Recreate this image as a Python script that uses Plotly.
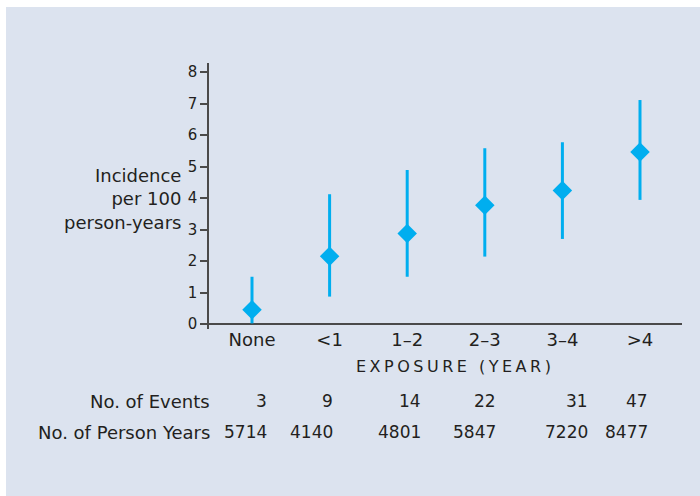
import plotly.graph_objects as go

# ---- data ----
categories = ["None", "<1", "1–2", "2–3", "3–4", ">4"]
incidence = [0.45, 2.15, 2.87, 3.77, 4.24, 5.46]
ci_upper = [1.50, 4.12, 4.89, 5.58, 5.77, 7.11]
ci_lower = [0.02, 0.87, 1.50, 2.14, 2.70, 3.94]
events = [3, 9, 14, 22, 31, 47]
person_years = [5714, 4140, 4801, 5847, 7220, 8477]
y_ticks = [0, 1, 2, 3, 4, 5, 6, 7, 8]

# ---- style ----
BG = "#DCE3EF"
CYAN = "#00AEEF"
INK = "#231F20"
AXIS = "#4A4A4A"
FONT = "DejaVu Sans"

# page offset of the figure (white strip left / top)
OX, OY = 6, 7
W, H = 700 - OX, 496 - OY
# plot area in screen pixels
PL, PR, PT, PB = 209, 682, 63, 329
ML, MR, MT, MB = PL - OX, W - (PR - OX), PT - OY, H - (PB - OY)
PW = W - ML - MR
PH = H - MT - MB

def px_to_paper_x(sx):
    return (sx - PL) / PW

def px_to_paper_y(sy):
    return (PB - sy) / PH

xs = list(range(len(categories)))
err_plus = [u - v for u, v in zip(ci_upper, incidence)]
err_minus = [v - l for v, l in zip(incidence, ci_lower)]

fig = go.Figure()
fig.add_trace(go.Scatter(
    x=xs, y=incidence, mode="markers",
    marker=dict(symbol="diamond", size=15, color=CYAN, line=dict(width=0)),
    error_y=dict(type="data", symmetric=False, array=err_plus, arrayminus=err_minus,
                 color=CYAN, thickness=3, width=0),
    showlegend=False, hoverinfo="skip",
))

annotations = []
# y-axis title
annotations.append(dict(
    xref="paper", yref="paper", x=px_to_paper_x(183), y=px_to_paper_y(199),
    xanchor="right", yanchor="middle", align="right", showarrow=False,
    text="Incidence<br>per 100<br>person-years",
    font=dict(family=FONT, size=18, color=INK),
))
# x-axis title (letter-spaced caps)
annotations.append(dict(
    xref="paper", yref="paper", x=px_to_paper_x(455), y=px_to_paper_y(366),
    xanchor="center", yanchor="middle", showarrow=False,
    text='<span style="letter-spacing:3.5px">EXPOSURE (YEAR)</span>',
    font=dict(family=FONT, size=16, color=INK),
))
# table row labels
row_y = [px_to_paper_y(401), px_to_paper_y(432)]
for label, yy in zip(["No. of Events", "No. of Person Years"], row_y):
    annotations.append(dict(
        xref="paper", yref="paper", x=px_to_paper_x(212), y=yy,
        xanchor="right", yanchor="middle", showarrow=False, text=label,
        font=dict(family=FONT, size=18, color=INK),
    ))
# table numbers (right aligned per column)
col_shift = [17, 5, 16, 13, 28, 10]
for i, (e, p) in enumerate(zip(events, person_years)):
    for val, yy in zip([e, p], row_y):
        annotations.append(dict(
            xref="x", yref="paper", x=xs[i], y=yy, xshift=col_shift[i],
            xanchor="right", yanchor="middle", showarrow=False, text=str(val),
            font=dict(family=FONT, size=17, color=INK),
        ))

x_lo = -43 / 77.6
x_hi = (682 - 252) / 77.6
y_top = 8 + 9 / 31.5
y_bot = y_top - PH / 31.5

fig.update_layout(
    width=W, height=H,
    margin=dict(l=ML, r=MR, t=MT, b=MB, pad=0),
    paper_bgcolor=BG, plot_bgcolor=BG,
    font=dict(family=FONT, color=INK),
    annotations=annotations,
    xaxis=dict(
        range=[x_lo, x_hi], tickmode="array", tickvals=xs, ticktext=categories,
        showgrid=False, zeroline=False, showline=False, ticks="",
        tickfont=dict(family=FONT, size=18, color=INK), ticklabelstandoff=-2,
    ),
    yaxis=dict(
        range=[y_bot, y_top], tickmode="array", tickvals=y_ticks,
        showgrid=False, showline=True, linecolor=AXIS, linewidth=1.5,
        ticks="outside", ticklen=7, tickwidth=1.5, tickcolor=AXIS,
        zeroline=True, zerolinecolor=AXIS, zerolinewidth=2,
        tickfont=dict(family=FONT, size=15, color=INK),
    ),
)

fig.write_html(
    "out.html",
    post_script="document.body.style.margin='%dpx 0 0 %dpx';document.body.style.overflow='hidden';" % (OY, OX),
)
